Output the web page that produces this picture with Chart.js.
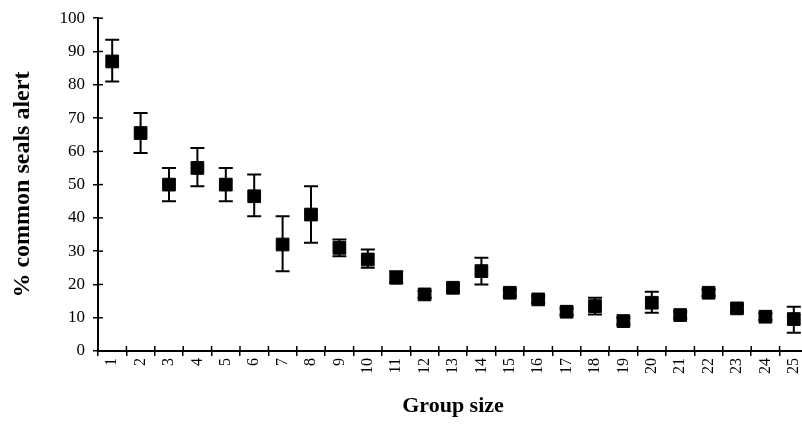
<!DOCTYPE html>
<html>
<head>
<meta charset="utf-8">
<script src="https://cdn.jsdelivr.net/npm/chart.js@4"></script>
<style>
  html, body { margin: 0; padding: 0; background: #fff; overflow: hidden; }
  #wrap { width: 818px; height: 426px; }
</style>
</head>
<body>
<div id="wrap"><canvas id="sealChart"></canvas></div>
<script>
// values
const groupSizes = ['1','2','3','4','5','6','7','8','9','10','11','12','13','14','15','16','17','18','19','20','21','22','23','24','25'];
const alertPct = [87, 65.5, 50, 55, 50, 46.5, 32, 41, 31, 27.5, 22, 17, 19, 24, 17.5, 15.5, 11.8, 13.5, 9, 14.5, 10.8, 17.5, 12.8, 10.3, 9.6];
const errLow  = [81, 59.5, 45, 49.5, 45, 40.5, 24, 32.5, 28.5, 25, 20.5, 16, 18, 20, 16.5, 14.5, 10.8, 11, 8, 11.5, 9.8, 16.5, 11.8, 9.3, 5.5];
const errHigh = [93.5, 71.5, 55, 61, 55, 53, 40.5, 49.5, 33.5, 30.5, 24, 18, 20, 28, 18.5, 16.5, 12.8, 16, 10, 17.8, 11.8, 18.5, 13.8, 11.3, 13.3];
const yTicks = [0, 10, 20, 30, 40, 50, 60, 70, 80, 90, 100];

const serif = '"Liberation Serif", "DejaVu Serif", serif';

const errorBars = {
  id: 'errorBars',
  afterDatasetsDraw(chart) {
    const ctx = chart.ctx;
    const xs = chart.scales.x;
    const ys = chart.scales.y;
    const area = chart.chartArea;
    ctx.save();
    ctx.strokeStyle = '#000';
    ctx.lineWidth = 2;
    // error bars
    alertPct.forEach((v, i) => {
      const x = xs.getPixelForValue(i);
      const top = ys.getPixelForValue(errHigh[i]);
      const bot = ys.getPixelForValue(errLow[i]);
      ctx.beginPath();
      ctx.moveTo(x, top); ctx.lineTo(x, bot);
      ctx.moveTo(x - 7, top); ctx.lineTo(x + 7, top);
      ctx.moveTo(x - 7, bot); ctx.lineTo(x + 7, bot);
      ctx.stroke();
    });
    // inner half of the crossing tick marks
    ctx.lineWidth = 1.5;
    yTicks.forEach(t => {
      const y = ys.getPixelForValue(t);
      ctx.beginPath();
      ctx.moveTo(area.left, y); ctx.lineTo(area.left + 5, y);
      ctx.stroke();
    });
    for (let i = 0; i <= groupSizes.length; i++) {
      const x = xs.getPixelForValue(i - 0.5);
      ctx.beginPath();
      ctx.moveTo(x, area.bottom); ctx.lineTo(x, area.bottom - 5);
      ctx.stroke();
    }
    ctx.restore();
  }
};

new Chart(document.getElementById('sealChart'), {
  type: 'line',
  data: {
    labels: groupSizes,
    datasets: [{
      data: alertPct,
      showLine: false,
      pointStyle: 'rect',
      pointRadius: 9,
      pointHoverRadius: 9,
      pointBackgroundColor: '#000',
      pointBorderColor: '#000',
      pointBorderWidth: 1
    }]
  },
  options: {
    responsive: true,
    maintainAspectRatio: false,
    animation: false,
    layout: { padding: { top: 18, right: 0, bottom: 0, left: 0 } },
    plugins: {
      legend: { display: false },
      tooltip: { enabled: false }
    },
    scales: {
      x: {
        type: 'category',
        offset: true,
        afterFit: scale => { scale.height = 75; },
        border: { color: '#000', width: 2 },
        grid: { drawOnChartArea: false, color: '#000', lineWidth: 1.5, tickLength: 5, offset: true },
        ticks: { color: '#000', minRotation: 90, maxRotation: 90, padding: 2, font: { family: serif, size: 16 } },
        title: { display: true, text: 'Group size', color: '#000', padding: { top: 4, bottom: 6 }, font: { family: serif, size: 22, weight: 'bold' } }
      },
      y: {
        min: 0,
        max: 100,
        afterBuildTicks: scale => { scale.ticks = yTicks.map(v => ({ value: v })); },
        afterFit: scale => { scale.width = 98; },
        border: { color: '#000', width: 2 },
        grid: { drawOnChartArea: false, color: '#000', lineWidth: 1.5, tickLength: 5 },
        ticks: { color: '#000', padding: 8, font: { family: serif, size: 17 } },
        title: { display: true, text: '% common seals alert', color: '#000', padding: { top: 8, bottom: 0 }, font: { family: serif, size: 24, weight: 'bold' } }
      }
    }
  },
  plugins: [errorBars]
});
</script>
</body>
</html>
